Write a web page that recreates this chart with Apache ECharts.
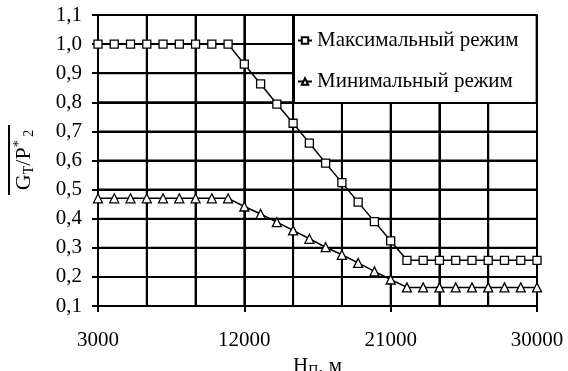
<!DOCTYPE html>
<html><head><meta charset="utf-8">
<script src="https://cdn.jsdelivr.net/npm/echarts@6/dist/echarts.min.js"></script>
<style>html,body{margin:0;padding:0;background:#fff}#c{width:568px;height:371px}</style>
</head><body><div id="c"></div>
<script>
const heights = [3000,4000,5000,6000,7000,8000,9000,10000,11000,12000,13000,14000,15000,16000,17000,18000,19000,20000,21000,22000,23000,24000,25000,26000,27000,28000,29000,30000];
const maxMode = [1,1,1,1,1,1,1,1,1,0.931,0.863,0.794,0.728,0.66,0.591,0.524,0.457,0.39,0.324,0.257,0.257,0.257,0.257,0.257,0.257,0.257,0.257,0.257];
const minMode = [0.47,0.47,0.47,0.47,0.47,0.47,0.47,0.47,0.47,0.442,0.416,0.388,0.36,0.331,0.302,0.276,0.248,0.219,0.191,0.164,0.164,0.164,0.164,0.164,0.164,0.164,0.164,0.164];
const xLabelStep = 9000;   // labels: 3000, 12000, 21000, 30000
const xGridStep = 3000;
const xGridValues = [6000,9000,12000,15000,18000,21000,24000,27000,30000];
const yGridValues = [0.2,0.3,0.4,0.5,0.6,0.7,0.8,0.9,1.0,1.1];
const X_MIN = 3000, X_MAX = 30000, Y_MIN = 0.1, Y_MAX = 1.1;
const seriesNames = ['Максимальный режим','Минимальный режим'];

const FONT = '"Liberation Serif", "DejaVu Serif", serif';
const chart = echarts.init(document.getElementById('c'), null, {renderer:'canvas'});
const pair = (arr) => heights.map((h,i)=>[h, arr[i]]);
const gridSeries = (pts) => ({type:'line', data:pts, symbol:'none', silent:true, clip:false, z:4,
  lineStyle:{color:'#000', width:2}, emphasis:{disabled:true}, tooltip:{show:false}});
const gridLines = [
  ...yGridValues.map(v => gridSeries([[X_MIN, v],[X_MAX, v]])),
  ...xGridValues.map(v => gridSeries([[v, Y_MIN],[v, Y_MAX]]))
];
chart.setOption({
  animation:false,
  backgroundColor:'#fff',
  grid:{left:98, right:31, top:15, bottom:65, containLabel:false, outerBoundsMode:'none'},
  xAxis:[{
    type:'value', min:X_MIN, max:X_MAX, interval:xLabelStep,
    axisLine:{show:true, lineStyle:{color:'#000', width:2}},
    axisTick:{show:true, length:6, lineStyle:{color:'#000', width:2}},
    axisLabel:{color:'#000', fontFamily:FONT, fontSize:21, margin:24,
      formatter:(v)=>String(v)},
    splitLine:{show:false},
    name:'H{sub|П}, м', nameLocation:'middle', nameGap:48,
    nameTextStyle:{color:'#000', fontFamily:FONT, fontSize:21,
      rich:{sub:{fontFamily:FONT, fontSize:14, color:'#000', verticalAlign:'bottom', padding:[10,0,0,0]}}}
  },{
    type:'value', min:X_MIN, max:X_MAX, interval:xGridStep, position:'bottom',
    axisLine:{show:false}, axisTick:{show:false}, axisLabel:{show:false},
    splitLine:{show:true, lineStyle:{color:'#000', width:2}}
  }],
  yAxis:{
    type:'value', min:Y_MIN, max:Y_MAX, interval:0.1,
    axisLine:{show:true, lineStyle:{color:'#000', width:2}},
    axisTick:{show:true, length:6, lineStyle:{color:'#000', width:2}},
    axisLabel:{color:'#000', fontFamily:FONT, fontSize:21, margin:16,
      formatter:(v)=>v.toFixed(1).replace('.',',')},
    splitLine:{show:true, lineStyle:{color:'#000', width:2}}
  },
  legend:{
    orient:'vertical', left:294, top:15,
    data:seriesNames,
    backgroundColor:'#fff', borderColor:'#000', borderWidth:2,
    padding:[15,18,11,3], itemGap:20, itemWidth:14, itemHeight:8,
    textStyle:{color:'#000', fontFamily:FONT, fontSize:21},
    z:10
  },
  graphic:[{
    type:'group', x:24, y:160, rotation:Math.PI/2, z:20,
    children:[
      {type:'text', x:0, y:0, style:{
        text:'G{sub|Т}/P{sup|*}{sub| 2}', fill:'#000', font:'22px '+FONT,
        align:'center', verticalAlign:'middle',
        rich:{
          sub:{fontFamily:FONT, fontSize:14, fill:'#000', verticalAlign:'bottom', padding:[10,0,0,0]},
          sup:{fontFamily:FONT, fontSize:14, fill:'#000', verticalAlign:'top', padding:[0,0,6,0]}
        }}},
      {type:'line', shape:{x1:-35, y1:-15, x2:35, y2:-15}, style:{stroke:'#000', lineWidth:2}}
    ]
  }],
  series:[
    ...gridLines,
    {name:seriesNames[0], type:'line', data:pair(maxMode), symbol:'rect', symbolSize:8,
     lineStyle:{color:'#000', width:1.5}, itemStyle:{color:'#fff', borderColor:'#000', borderWidth:1.3}, z:5},
    {name:seriesNames[1], type:'line', data:pair(minMode), symbol:'triangle', symbolSize:9,
     lineStyle:{color:'#000', width:1.5}, itemStyle:{color:'#fff', borderColor:'#000', borderWidth:1.3}, z:5}
  ]
});
</script></body></html>
